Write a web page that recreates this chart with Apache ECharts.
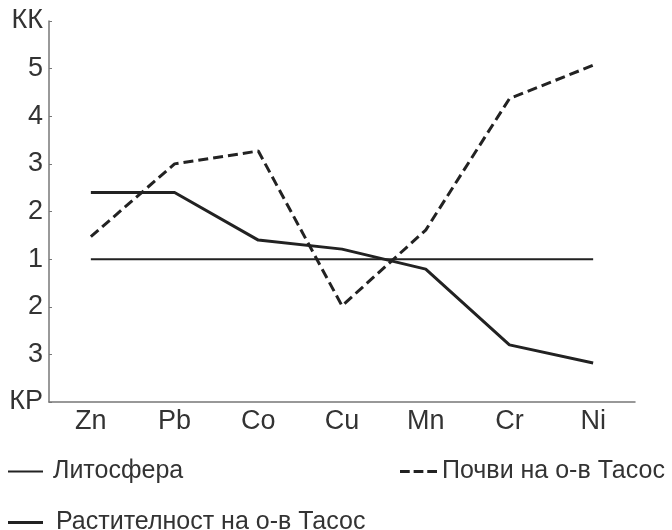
<!DOCTYPE html>
<html>
<head>
<meta charset="utf-8">
<script src="https://cdn.jsdelivr.net/npm/echarts@6/dist/echarts.min.js"></script>
<style>
  html, body { margin: 0; padding: 0; background: #fff; }
  #chart { width: 672px; height: 530px; }
</style>
</head>
<body>
<div id="chart"></div>
<script>
// axis position: 0 = 1, positive = КК - 1, negative = -(КР - 1)
const elements = ['Zn', 'Pb', 'Co', 'Cu', 'Mn', 'Cr', 'Ni'];
const lithosphere = [0, 0, 0, 0, 0, 0, 0];
const soils = [0.47, 2.0, 2.27, -0.98, 0.61, 3.37, 4.07];
const vegetation = [1.4, 1.4, 0.4, 0.21, -0.21, -1.8, -2.18];
const yTickLabels = ['КР', '3', '2', '1', '2', '3', '4', '5', 'КК'];

const font = '"Liberation Sans", Arial, sans-serif';
const ink = '#222';

const chart = echarts.init(document.getElementById('chart'));

// legend icons drawn as plain bars (thin / thick / three dashes)
const thinIcon = 'path://M0,0h35v2h-35z';
const thickIcon = 'path://M0,0h35v3h-35z';
const dashIcon = 'path://M0,0h10v3h-10z M14,0h10v3h-10z M28,0h10v3h-10z';

const legendText = { color: '#333', fontSize: 25, fontFamily: font, lineHeight: 24 };

const option = {
  animation: false,
  grid: { left: 49, right: 37, top: 21, bottom: 128 },
  xAxis: {
    type: 'category',
    data: elements,
    boundaryGap: true,
    axisLine: { onZero: false, lineStyle: { color: '#777', width: 1.5 } },
    axisTick: { inside: true, length: 3, alignWithLabel: true, lineStyle: { color: '#777' } },
    axisLabel: { color: '#333', fontSize: 27, fontFamily: font, margin: 6 }
  },
  yAxis: {
    type: 'value',
    min: -3,
    max: 5,
    interval: 1,
    splitLine: { show: false },
    axisLine: { show: true, lineStyle: { color: '#777', width: 1.5 } },
    axisTick: { show: true, inside: true, length: 3, lineStyle: { color: '#777' } },
    axisLabel: {
      color: '#333',
      fontSize: 27,
      fontFamily: font,
      margin: 6,
      formatter: v => yTickLabels[v + 3]
    }
  },
  legend: [
    {
      data: [{ name: 'Литосфера', icon: thinIcon }],
      left: 8, top: 459, padding: 0, itemWidth: 35, itemHeight: 2,
      selectedMode: false,
      itemStyle: { color: ink },
      textStyle: Object.assign({}, legendText, { padding: [0, 0, 0, 5] })
    },
    {
      data: [{ name: 'Почви на о-в Тасос', icon: dashIcon }],
      left: 400, top: 459, padding: 0, itemWidth: 37, itemHeight: 3,
      selectedMode: false,
      itemStyle: { color: ink },
      textStyle: legendText
    },
    {
      data: [{ name: 'Растителност на о-в Тасос', icon: thickIcon }],
      left: 8, top: 510, padding: 0, itemWidth: 35, itemHeight: 3,
      selectedMode: false,
      itemStyle: { color: ink },
      textStyle: Object.assign({}, legendText, { padding: [0, 0, 0, 8] })
    }
  ],
  series: [
    {
      name: 'Литосфера',
      type: 'line',
      data: lithosphere,
      symbol: 'none',
      lineStyle: { color: ink, width: 2 },
      itemStyle: { color: ink }
    },
    {
      name: 'Почви на о-в Тасос',
      type: 'line',
      data: soils,
      symbol: 'none',
      lineStyle: { color: ink, width: 3, type: [10, 5] },
      itemStyle: { color: ink }
    },
    {
      name: 'Растителност на о-в Тасос',
      type: 'line',
      data: vegetation,
      symbol: 'none',
      lineStyle: { color: ink, width: 3 },
      itemStyle: { color: ink }
    }
  ]
};

chart.setOption(option);
</script>
</body>
</html>
